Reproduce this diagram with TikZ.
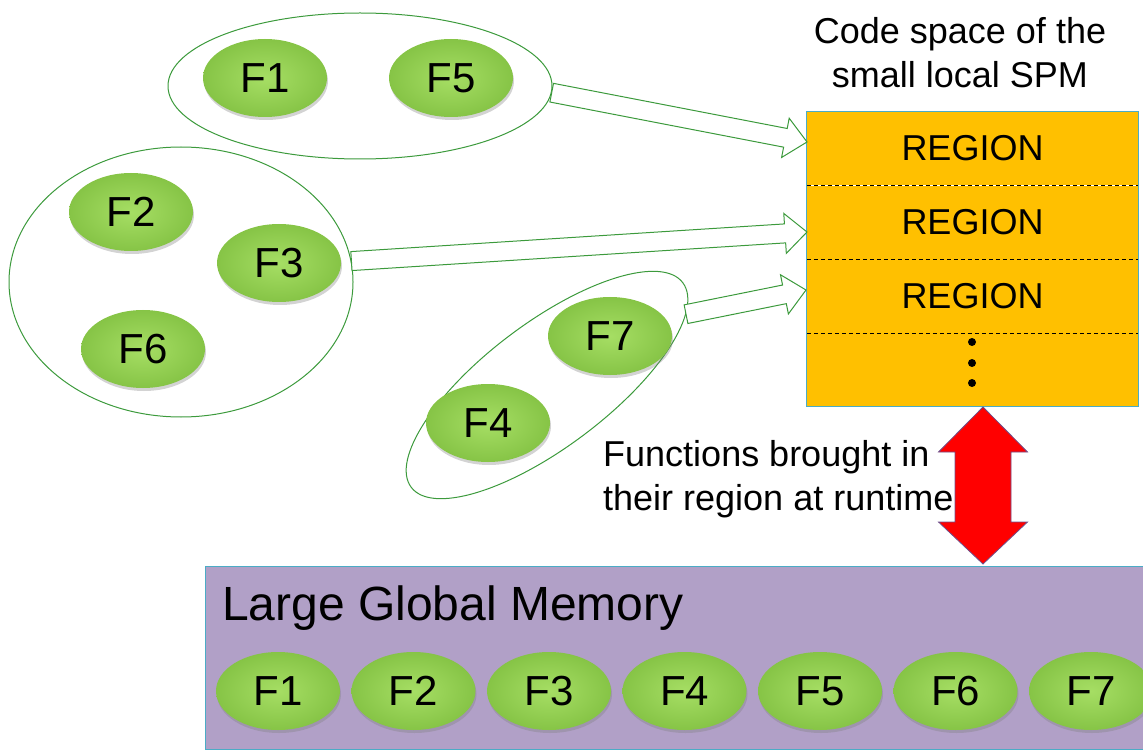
\documentclass[tikz,border=0pt]{standalone}
\usepackage{fontspec}
\setmainfont{Liberation Sans}
\usetikzlibrary{shapes.geometric}
\usetikzlibrary{shadows}
\usetikzlibrary{calc}
\usetikzlibrary{positioning}
\definecolor{grpgreen}{HTML}{3C9A3C}
\definecolor{bubblein}{HTML}{A6DE64}
\definecolor{bubbleout}{HTML}{86C446}
\definecolor{spmfill}{HTML}{FFC000}
\definecolor{memfill}{HTML}{B1A0C7}
\definecolor{boxedge}{HTML}{4BACC6}
\tikzset{func/.style = {ellipse, inner sep = 0, minimum width = 124pt, minimum height = 78pt,
                        inner color = bubblein, outer color = bubbleout,
                        drop shadow = {shadow xshift = 1pt, shadow yshift = -3pt, opacity = 0.35},
                        font = \fontsize{42}{42}\selectfont}}
\tikzset{group/.style = {ellipse, draw = grpgreen, line width = 1pt, inner sep = 0}}
\tikzset{flow/.style = {draw = grpgreen, line width = 1pt, fill = white, line join = miter}}
\tikzset{cell/.style = {fill = spmfill, minimum width = 331pt, minimum height = 73.25pt,
                        inner sep = 0, font = \fontsize{36}{36}\selectfont}}
\tikzset{caption/.style = {font = \fontsize{36}{44}\selectfont, inner sep = 0}}
\tikzset{xfer/.style = {fill = red, draw = {rgb,255:red,110;green,80;blue,140},
                        line width = 0.8pt, line join = miter}}

\begin{document}
\begin{tikzpicture}[x = 1pt, y = -1pt]
    \clip (0, 0) rectangle (1143, 751);
    % groups of functions
    \node [group, minimum width = 384pt, minimum height = 146pt] (g1) at (360, 86) {};
    \node [group, minimum width = 344pt, minimum height = 270pt] (g2) at (181, 282) {};
    \node [group, minimum width = 340pt, minimum height = 124pt, rotate = 37] (g3) at (547, 385) {};
    \node [func] (f1) at (265, 78) {F1};
    \node [func] (f5) at (451, 78) {F5};
    \node [func] (f2) at (131, 212) {F2};
    \node [func] (f3) at (279, 263) {F3};
    \node [func] (f6) at (143, 349) {F6};
    \node [func] (f7) at (610, 336) {F7};
    \node [func] (f4) at (488, 423) {F4};
    % scratchpad regions
    \node [cell] (r1) at (972.5, 148.6) {REGION};
    \node [cell, below = 0pt of r1] (r2) {REGION};
    \node [cell, below = 0pt of r2] (r3) {REGION};
    \node [cell, below = 0pt of r3] (r4) {};
    \foreach \i in {1, 2, 3}
      \draw [dash pattern = on 4pt off 3pt] (r\i.south west) -- (r\i.south east);
    \draw [boxedge, line width = 1.2pt] (r1.north west) rectangle (r4.south east);
    \foreach \y in {342, 363, 383}
      \fill (972, \y) circle [radius = 4];
    \node [caption, align = center] (spmtitle) at (960, 53) {Code space of the\\small local SPM};
    % arrows into the regions
    \coordinate (e1) at (807, 142);
    \coordinate (e2) at (807, 232);
    \coordinate (e3) at (806, 290);
    \foreach \s/\t in {g1.-2/e1, g2.7/e2, g3.-10/e3} {
      \coordinate (h) at ($(\t)!22pt!(\s)$);
      \draw [flow] ($(\s)!9.5pt!90:(\t)$) -- ($(h)!9.5pt!90:(\t)$) -- ($(h)!20pt!90:(\t)$)
        -- (\t) -- ($(h)!20pt!-90:(\t)$) -- ($(h)!9.5pt!-90:(\t)$) -- ($(\s)!9.5pt!-90:(\t)$) -- cycle;
    }
    % global memory
    \node [fill = memfill, draw = boxedge, line width = 1.2pt, anchor = north west,
           minimum width = 960pt, minimum height = 183pt] (mem) at (205, 566) {};
    \node [anchor = base west, inner sep = 0, font = \fontsize{48}{48}\selectfont]
      (memtitle) at (222, 620) {Large Global Memory};
    \foreach \i in {1, ..., 7}
      \node [func] (m\i) at ({278 + 135.5 * (\i - 1)}, 691) {F\i};
    % transfer arrow
    \coordinate (xtop) at (983, 407);
    \coordinate (xbot) at (983, 564);
    \draw [xfer] (xtop) -- ++(44.5, 45) -- ++(-16.5, 0) -- ++(0, 70) -- ++(16.5, 0) -- (xbot)
      -- ++(-44.5, -42) -- ++(16.5, 0) -- ++(0, -70) -- ++(-16.5, 0) -- cycle;
    \node [caption, align = left, anchor = west] (note) at (603, 479)
      {Functions brought in\\their region at runtime};
  \end{tikzpicture}
\end{document}
